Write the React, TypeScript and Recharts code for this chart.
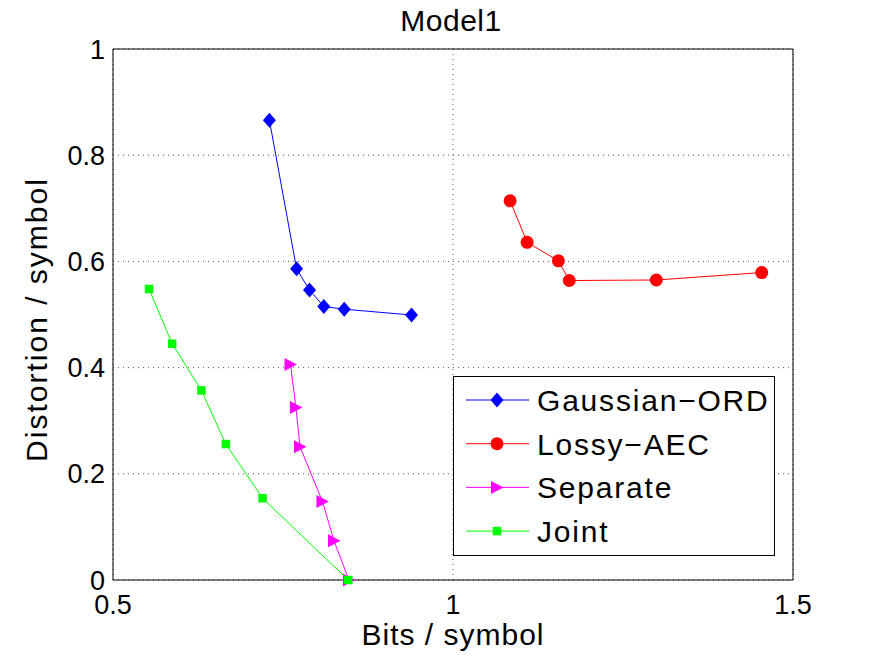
import React from 'react';
import { ScatterChart, Scatter, XAxis, YAxis, CartesianGrid, Legend } from 'recharts';

const FONT = '"Liberation Sans", Arial, Helvetica, sans-serif';

// Axis ticks
const xTicks = [0.5, 1, 1.5];
const yTicks = [0, 0.2, 0.4, 0.6, 0.8, 1];

// Rate / distortion points per scheme
const gaussianOrdBits = [0.730, 0.770, 0.789, 0.810, 0.840, 0.939];
const gaussianOrdDist = [0.866, 0.586, 0.546, 0.515, 0.510, 0.499];

const lossyAecBits = [1.084, 1.109, 1.155, 1.171, 1.299, 1.454];
const lossyAecDist = [0.714, 0.636, 0.601, 0.564, 0.565, 0.579];

const separateBits = [0.761, 0.769, 0.775, 0.808, 0.825, 0.847];
const separateDist = [0.406, 0.325, 0.251, 0.148, 0.074, 0.0];

const jointBits = [0.553, 0.587, 0.630, 0.666, 0.720, 0.846];
const jointDist = [0.548, 0.445, 0.357, 0.256, 0.154, 0.0];

type Marker = 'diamond' | 'circle' | 'triangle' | 'square';

const zip = (xs: number[], ys: number[]) => xs.map((x, i) => ({ x, y: ys[i] }));

const SERIES: { name: string; label: string; color: string; marker: Marker; data: { x: number; y: number }[] }[] = [
  { name: 'Gaussian-ORD', label: 'Gaussian\u2212ORD', color: '#0000ff', marker: 'diamond', data: zip(gaussianOrdBits, gaussianOrdDist) },
  { name: 'Lossy-AEC', label: 'Lossy\u2212AEC', color: '#ff0000', marker: 'circle', data: zip(lossyAecBits, lossyAecDist) },
  { name: 'Separate', label: 'Separate', color: '#ff00ff', marker: 'triangle', data: zip(separateBits, separateDist) },
  { name: 'Joint', label: 'Joint', color: '#00ff00', marker: 'square', data: zip(jointBits, jointDist) },
];

function drawMarker(kind: Marker, cx: number, cy: number, color: string) {
  switch (kind) {
    case 'diamond':
      return (
        <polygon
          points={`${cx},${cy - 7.5} ${cx + 6.5},${cy} ${cx},${cy + 7.5} ${cx - 6.5},${cy}`}
          fill={color}
        />
      );
    case 'circle':
      return <circle cx={cx} cy={cy} r={6.5} fill={color} />;
    case 'triangle':
      return (
        <polygon
          points={`${cx - 6},${cy - 6.5} ${cx + 6.5},${cy} ${cx - 6},${cy + 6.5}`}
          fill={color}
        />
      );
    default:
      return <rect x={cx - 4.25} y={cy - 4.25} width={8.5} height={8.5} fill={color} />;
  }
}

const makeShape = (kind: Marker, color: string) => (props: any) => {
  const { cx, cy } = props;
  if (cx == null || cy == null) return <g />;
  return <g>{drawMarker(kind, cx, cy, color)}</g>;
};

const LegendBox = () => (
  <svg width={323} height={181} style={{ display: 'block' }}>
    <rect x={0.5} y={0.5} width={321} height={179} fill="#fff" stroke="#000" />
    {SERIES.map((s, i) => {
      const cy = 24 + i * 43.7;
      return (
        <g key={s.name}>
          <line x1={13} x2={76} y1={cy} y2={cy} stroke={s.color} strokeWidth={1} />
          {drawMarker(s.marker, 44, cy, s.color)}
          <text x={84} y={cy + 10.8} fontSize={30} fontFamily={FONT} fill="#000" letterSpacing={1.8}>
            {s.label}
          </text>
        </g>
      );
    })}
  </svg>
);

const tickStyle = { fontSize: 27, fill: '#000', fontFamily: FONT };

export default function App() {
  return (
    <div style={{ position: 'absolute', left: 0, top: 0, background: '#fff' }}>
      <ScatterChart width={873} height={657} margin={{ top: 49, right: 80, bottom: 37, left: 53 }}>
        <CartesianGrid xAxisId="x" yAxisId="y" stroke="#555" strokeDasharray="1 4" />
        <XAxis
          xAxisId="x"
          type="number"
          dataKey="x"
          domain={[0.5, 1.5]}
          ticks={xTicks}
          interval={0}
          tickLine={false}
          axisLine={{ stroke: '#000' }}
          tick={tickStyle}
          tickMargin={9}
          height={40}
          label={{
            content: ({ viewBox }: any) => (
              <text
                x={viewBox.x + viewBox.width / 2}
                y={viewBox.y + 65}
                textAnchor="middle"
                fontSize={30}
                fontFamily={FONT}
                letterSpacing={1}
                fill="#000"
              >
                Bits / symbol
              </text>
            ),
          }}
        />
        <YAxis
          yAxisId="y"
          type="number"
          dataKey="y"
          domain={[0, 1]}
          ticks={yTicks}
          interval={0}
          tickLine={false}
          axisLine={{ stroke: '#000' }}
          tick={tickStyle}
          width={60}
          label={{
            content: ({ viewBox }: any) => {
              const lx = viewBox.x - 6;
              const ly = viewBox.y + viewBox.height / 2 + 5;
              return (
                <text
                  x={lx}
                  y={ly}
                  transform={`rotate(-90, ${lx}, ${ly})`}
                  textAnchor="middle"
                  fontSize={30}
                  fontFamily={FONT}
                  letterSpacing={2}
                  fill="#000"
                >
                  Distortion / symbol
                </text>
              );
            },
          }}
        />
        {/* inward tick marks and the closing box, MATLAB style */}
        <XAxis
          xAxisId="xb"
          orientation="bottom"
          mirror
          type="number"
          domain={[0.5, 1.5]}
          allowDataOverflow
          ticks={xTicks}
          interval={0}
          tick={false}
          axisLine={false}
          tickLine={{ stroke: '#000' }}
          tickSize={7}
        />
        <XAxis
          xAxisId="xt"
          orientation="top"
          mirror
          type="number"
          domain={[0.5, 1.5]}
          allowDataOverflow
          ticks={xTicks}
          interval={0}
          tick={false}
          axisLine={{ stroke: '#000' }}
          tickLine={{ stroke: '#000' }}
          tickSize={7}
          label={{
            content: ({ viewBox }: any) => (
              <text
                x={viewBox.x + viewBox.width / 2 - 2}
                y={31}
                textAnchor="middle"
                fontSize={30}
                fontFamily={FONT}
                letterSpacing={0.5}
                fill="#000"
              >
                Model1
              </text>
            ),
          }}
        />
        <YAxis
          yAxisId="yl"
          orientation="left"
          mirror
          type="number"
          domain={[0, 1]}
          allowDataOverflow
          ticks={yTicks}
          interval={0}
          tick={false}
          axisLine={false}
          tickLine={{ stroke: '#000' }}
          tickSize={7}
        />
        <YAxis
          yAxisId="yr"
          orientation="right"
          mirror
          type="number"
          domain={[0, 1]}
          allowDataOverflow
          ticks={yTicks}
          interval={0}
          tick={false}
          axisLine={{ stroke: '#000' }}
          tickLine={{ stroke: '#000' }}
          tickSize={7}
        />
        {SERIES.map((s) => (
          <Scatter
            key={s.name}
            name={s.name}
            xAxisId="x"
            yAxisId="y"
            data={s.data}
            fill={s.color}
            line={{ stroke: s.color, strokeWidth: 1 }}
            lineType="joint"
            shape={makeShape(s.marker, s.color)}
            isAnimationActive={false}
          />
        ))}
        <Legend
          layout="horizontal"
          verticalAlign="middle"
          align="center"
          content={LegendBox}
          wrapperStyle={{ left: 453, top: 376, width: 323, height: 181 }}
        />
      </ScatterChart>
    </div>
  );
}
